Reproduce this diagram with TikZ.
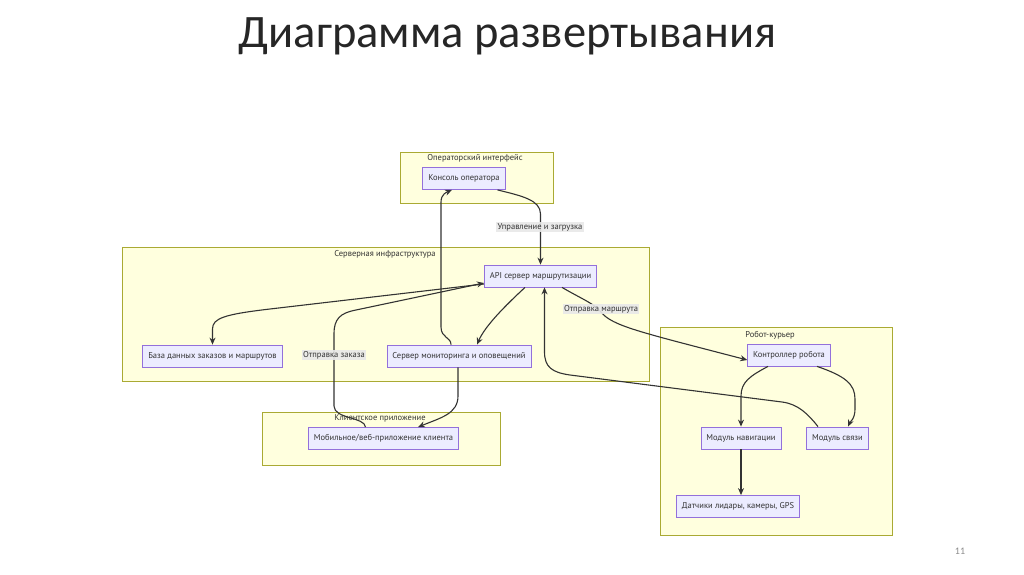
\documentclass[tikz,border=0pt]{standalone}
\usepackage{fontspec}
\setmainfont{PT Sans}
\newfontfamily\titlefont{Carlito}
\usetikzlibrary{arrows.meta}
\definecolor{grpfill}{HTML}{FFFFDE}
\definecolor{grpline}{HTML}{AAAA33}
\definecolor{boxfill}{HTML}{ECECFF}
\definecolor{boxline}{HTML}{9370DB}
\definecolor{ink}{HTML}{333333}
\definecolor{lblfill}{HTML}{E8E8E8}
\begin{document}
\begin{tikzpicture}[x=1pt,y=1pt,
  grp/.style={draw=grpline,fill=grpfill,line width=0.7pt,inner sep=0pt},
  grplbl/.style={text=ink,font=\fontsize{8.5}{9}\selectfont,inner sep=1pt},
  box/.style={draw=boxline,fill=boxfill,line width=0.8pt,text=ink,
    font=\fontsize{8.5}{9}\selectfont,inner xsep=5.5pt,minimum height=22pt},
  flow/.style={draw=ink,line width=1.1pt,-{Stealth[length=7pt,width=6pt]}},
  elbl/.style={fill=lblfill,fill opacity=0.9,text opacity=1,text=ink,
    font=\fontsize{8.5}{9}\selectfont,inner sep=1.5pt}]
\path[fill=white] (0,0) rectangle (1024,574);
\node[anchor=base,text=black!85,font=\titlefont\fontsize{46.5}{50}\selectfont] (title) at (507.5,526) {Диаграмма развертывания};
\node[text=black!45,font=\titlefont\fontsize{10}{12}\selectfont] (pgnum) at (960,23) {11};

\node[grp,minimum width=153,minimum height=51] (opgrp) at (476.5,396.5) {};
\node[grp,minimum width=527,minimum height=134] (srvgrp) at (385.5,260) {};
\node[grp,minimum width=238,minimum height=53] (cligrp) at (381,135.5) {};
\node[grp,minimum width=232,minimum height=208] (botgrp) at (776,143) {};
\node[grplbl] (oplbl) at (475,416) {Операторский интерфейс};
\node[grplbl] (srvlbl) at (385,320) {Серверная инфраструктура};
\node[grplbl] (clilbl) at (380,156) {Клиентское приложение};
\node[grplbl] (botlbl) at (770,239) {Робот-курьер};

\node[box] (con) at (464,395.5) {Консоль оператора};
\node[box] (api) at (540.5,298) {API сервер маршрутизации};
\node[box] (db) at (212.5,218) {База данных заказов и маршрутов};
\node[box] (mon) at (459,218) {Сервер мониторинга и оповещений};
\node[box] (cli) at (383.5,135.5) {Мобильное/веб-приложение клиента};
\node[box] (ctrl) at (789,219) {Контроллер робота};
\node[box] (nav) at (741,136) {Модуль навигации};
\node[box] (comm) at (837.5,136) {Модуль связи};
\node[box] (sens) at (738,67.5) {Датчики лидары, камеры, GPS};

\draw[flow] ([xshift=-8pt]con.south east) .. controls (522,378) and (540.5,374) .. (540.5,360) -- (api.north);
\draw[flow] ([xshift=-8pt]mon.north) .. controls (451,237) and (441,236) .. (441,247) -- (441,372) .. controls (441,380) and (447,382) .. ([xshift=-12pt]con.south);
\draw[flow] ([yshift=-8pt]api.west) -- (270,265) .. controls (225,259.7) and (212.5,256) .. (212.5,245) -- (db.north);
\draw[flow] ([xshift=-18pt]cli.north) .. controls (365,157) and (334,155) .. (334,168) -- (334,240) .. controls (334,255) and (340,261) .. (356,264) -- ([yshift=-7pt]api.west);
\draw[flow] ([xshift=-15.5pt]api.south) .. controls (505,268) and (485,248) .. ([xshift=18pt]mon.north);
\draw[flow] ([xshift=-1pt]mon.south) -- (458,178) .. controls (458,160) and (440,156) .. ([xshift=34.5pt]cli.north);
\draw[flow] ([xshift=21.5pt]api.south) .. controls (580,276) and (595,270) .. (601,262) .. controls (612,248) and (640,242) .. ([yshift=-5pt]ctrl.west);
\draw[flow] ([xshift=-19.5pt]comm.north) .. controls (808,160) and (798,170) .. (782,172) -- (570,199) .. controls (552,201.5) and (544.5,207) .. (544.5,222) -- ([xshift=4pt]api.south);
\draw[flow] ([xshift=-21pt]ctrl.south) .. controls (750,198) and (741,192) .. (741,178) -- (nav.north);
\draw[flow] ([xshift=28pt]ctrl.south) .. controls (845,198) and (855,190) .. (855,175) -- (855,165) .. controls (855,155) and (850,152) .. ([xshift=10.5pt]comm.north);
\draw[flow] (nav.south) -- (nav.south |- sens.north);

\node[elbl] (ctllbl) at (540,347) {Управление и загрузка};
\node[elbl] (ordlbl) at (334,219) {Отправка заказа};
\node[elbl] (rtlbl) at (601,265) {Отправка маршрута};
\end{tikzpicture}
\end{document}
